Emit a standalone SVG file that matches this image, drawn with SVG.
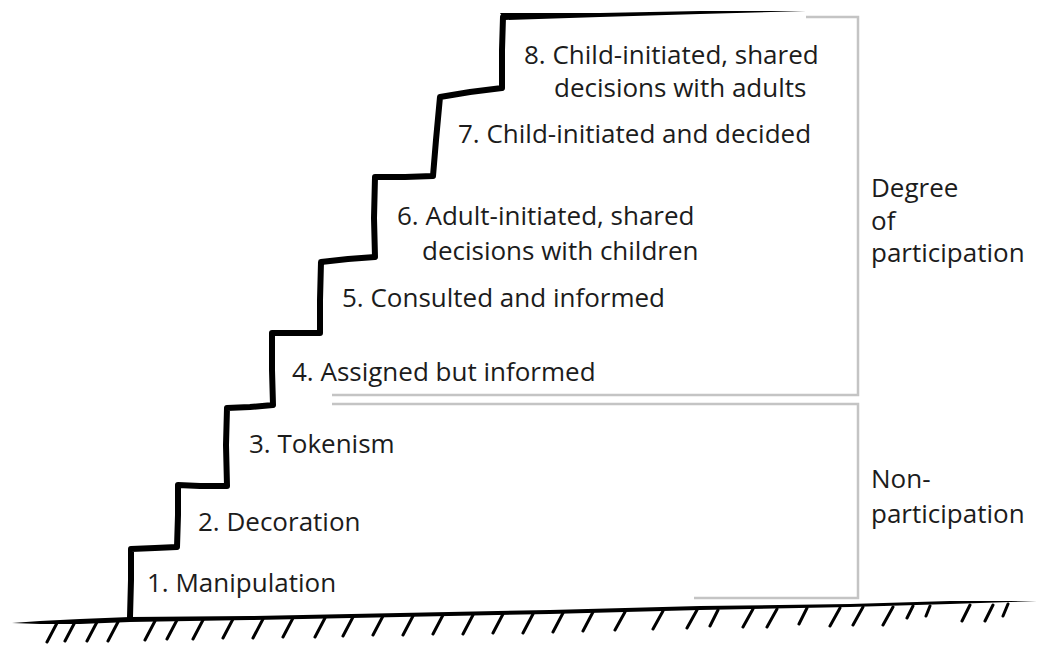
<svg xmlns="http://www.w3.org/2000/svg" width="1038" height="648" viewBox="0 0 1038 648">
<style>
.lbl{font-family:"Open Sans","Liberation Sans",sans-serif;font-size:26px;fill:#1c1c1c}
.brk{fill:none;stroke:#c4c4c4;stroke-width:2.5}
.stair{fill:none;stroke:#000;stroke-width:6;stroke-linejoin:round;stroke-linecap:round}
.tick{fill:none;stroke:#000;stroke-width:3;stroke-linecap:round}
</style>
<rect width="1038" height="648" fill="#fff"/>
<g id="connectors">
<polyline class="brk" points="806,17 858,17 858,395 332,395"/>
<polyline class="brk" points="332,404 858,404 858,598 694,598"/>
</g>
<g id="staircase">
<path class="stair" d="M130,617 L131,580 L131,549 L155,548 L177,547 L178,515 L178,485 L200,486 L227,486 L226,445 L227,408 L250,407 L273,405 L272,370 L272,333 L296,333 L320,333 L320,300 L321,262 L348,259 L375,257 L374,218 L375,177 L405,177 L433,176 L436,140 L440,97 L470,92 L502,88 L502,50 L503,17"/>
<polygon points="500,13 600,13 700,11 806,11 700,14 600,17 505,20" fill="#000"/>
</g>
<g id="ground">
<polygon points="12,623 40,621 80,619 130,617 250,616 400,613 550,610 700,606 850,604 950,601 1037,601 950,604 850,607 700,610 550,614 400,617 250,620 130,622 80,624 40,624" fill="#000"/>
<path class="tick" d="M57,623l-10,19M75,622l-10,19M97,622l-10,19M118,622l-10,19M155,621l-10,19M177,620l-10,19M203,620l-10,19M233,619l-10,19M263,619l-10,19M293,618l-10,19M325,618l-10,19M353,617l-10,19M383,616l-10,19M413,616l-10,19M443,615l-10,19M473,615l-10,19M503,614l-10,19M533,614l-10,19M563,613l-10,19M593,612l-10,19M625,612l-10,18M663,611l-10,18M697,610l-10,18M718,610l-8,16M753,609l-10,18M777,609l-10,18M807,608l-8,16M840,608l-10,18M863,607l-10,18M893,607l-10,18M913,606l-6,12M930,606l-4,10M970,605l-8,16M993,605l-8,16M1008,604l-5,12"/>
</g>
<g id="n1"><text class="lbl" x="147" y="592">1. Manipulation</text></g>
<g id="n2"><text class="lbl" x="198" y="531">2. Decoration</text></g>
<g id="n3"><text class="lbl" x="249" y="453">3. Tokenism</text></g>
<g id="n4"><text class="lbl" x="292" y="381">4. Assigned but informed</text></g>
<g id="n5"><text class="lbl" x="342" y="307">5. Consulted and informed</text></g>
<g id="n6"><text class="lbl" x="397" y="225">6. Adult-initiated, shared</text><text class="lbl" x="422" y="260">decisions with children</text></g>
<g id="n7"><text class="lbl" x="458" y="143">7. Child-initiated and decided</text></g>
<g id="n8"><text class="lbl" x="524" y="64">8. Child-initiated, shared</text><text class="lbl" x="554" y="97">decisions with adults</text></g>
<g id="g1"><text class="lbl" x="871" y="197">Degree</text><text class="lbl" x="871" y="230">of</text><text class="lbl" x="871" y="262">participation</text></g>
<g id="g2"><text class="lbl" x="871" y="488">Non-</text><text class="lbl" x="871" y="523">participation</text></g>
</svg>
